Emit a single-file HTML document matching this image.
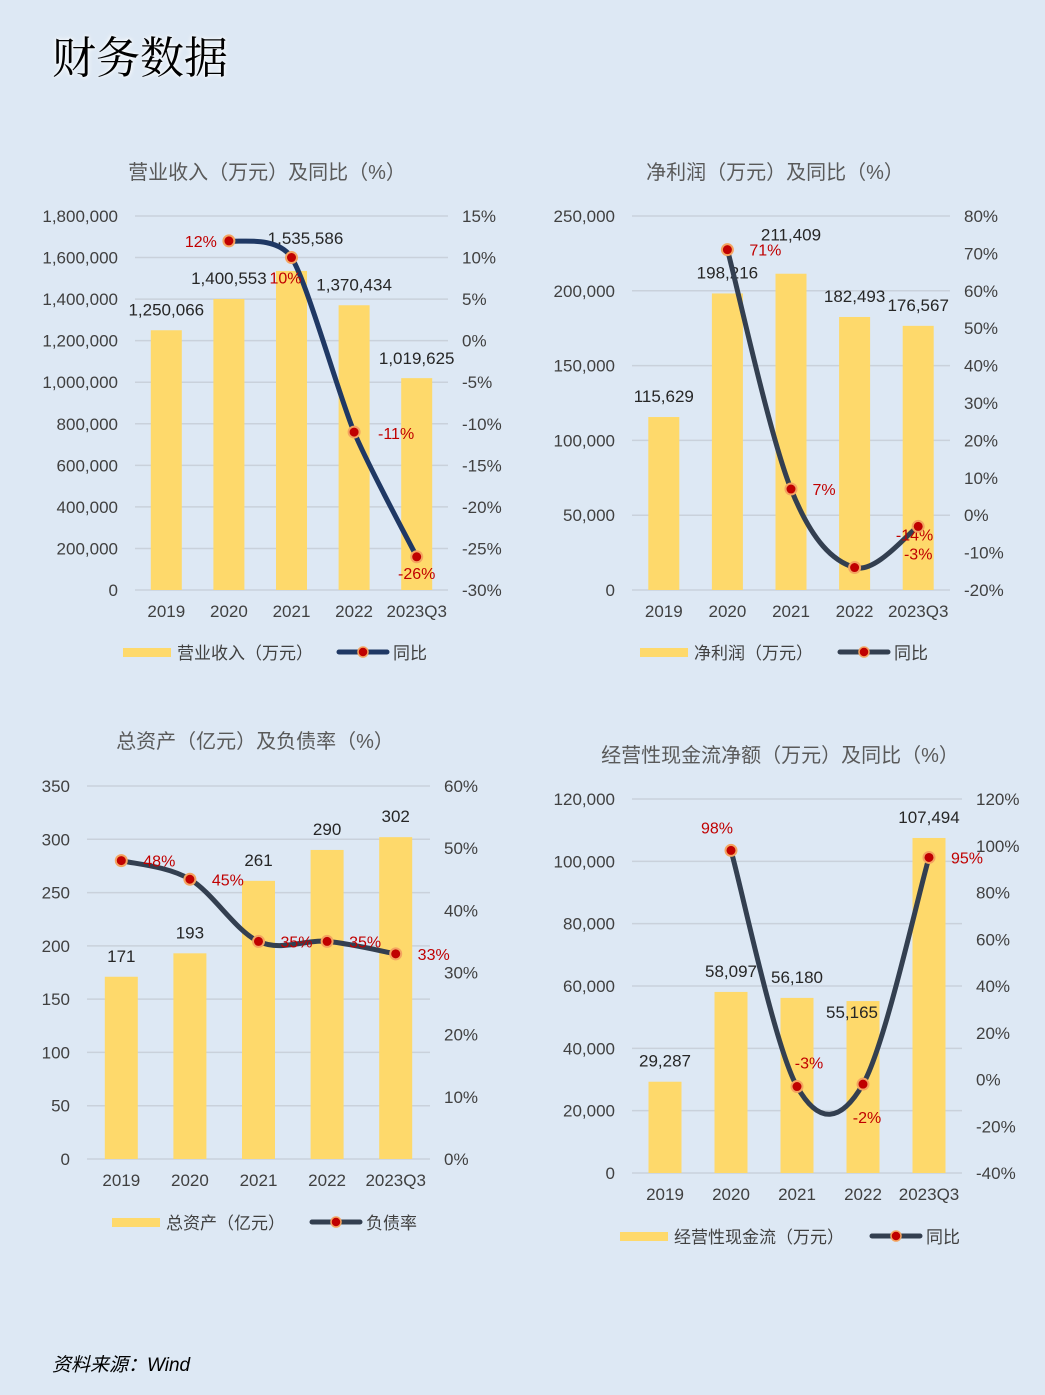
<!DOCTYPE html>
<html><head><meta charset="utf-8">
<style>
body{margin:0;width:1045px;height:1395px;background:#dde8f4;overflow:hidden;font-family:"Liberation Sans","Noto Sans CJK SC",sans-serif;}
#title{position:absolute;left:52px;top:22px;font-size:44px;font-family:"Liberation Serif","Noto Serif CJK SC",serif;color:#000;text-shadow:0 0 6px #fff,0 0 3px #fff;}
#src{position:absolute;left:52px;top:1350px;font-size:19px;font-style:italic;color:#000;}
svg{position:absolute;left:0;top:0;}
</style></head><body>
<div id="title">财务数据</div>
<div id="src">资料来源：Wind</div>
<svg id="svg" width="1045" height="1395"></svg>
<script>
const cats=["2019","2020","2021","2022","2023Q3"];
const rev=[1250066,1400553,1535586,1370434,1019625];
const revYoy=[null,12,10,-11,-26];
const np=[115629,198216,211409,182493,176567];
const npYoy=[null,71,7,-14,-3];
const assets=[171,193,261,290,302];
const debt=[48,45,35,35,33];
const cf=[29287,58097,56180,55165,107494];
const cfYoy=[null,98,-3,-2,95];
const revTicks=[0,200000,400000,600000,800000,1000000,1200000,1400000,1600000,1800000];
const revRT=[-30,-25,-20,-15,-10,-5,0,5,10,15];
const npTicks=[0,50000,100000,150000,200000,250000];
const npRT=[-20,-10,0,10,20,30,40,50,60,70,80];
const aTicks=[0,50,100,150,200,250,300,350];
const aRT=[0,10,20,30,40,50,60];
const cfTicks=[0,20000,40000,60000,80000,100000,120000];
const cfRT=[-40,-20,0,20,40,60,80,100,120];

const NS="http://www.w3.org/2000/svg";
const svg=document.getElementById('svg');
function mk(tag,attrs,parent){const e=document.createElementNS(NS,tag);for(const k in attrs)e.setAttribute(k,attrs[k]);(parent||svg).appendChild(e);return e;}
const fmt=v=>v.toLocaleString('en-US');

function chart(c){
  const g=mk('g',{});
  
  
  const lmin=c.lt[0],lmax=c.lt[c.lt.length-1],rmin=c.rt[0],rmax=c.rt[c.rt.length-1];
  const yL=v=>c.y1-(v-lmin)/(lmax-lmin)*(c.y1-c.y0);
  const yR=v=>c.y1-(v-rmin)/(rmax-rmin)*(c.y1-c.y0);
  const step=(c.x1-c.x0)/cats.length;
  const xc=i=>c.x0+step*(i+0.5);
  const t=mk('text',{x:c.tx,y:c.ty,'font-size':20,fill:'#595959','text-anchor':'middle'},g);t.textContent=c.title;
  
  c.lt.forEach(v=>{const y=yL(v);
    mk('line',{x1:c.x0,x2:c.x1,y1:y,y2:y,stroke:'#c9d1db','stroke-width':1.5},g);
    const l=mk('text',{x:c.x0-17,y:y+6,'font-size':17,fill:'#404040','text-anchor':'end'},g);l.textContent=fmt(v);
    });
  c.rt.forEach(v=>{const l=mk('text',{x:c.x1+14,y:yR(v)+6,'font-size':17,fill:'#404040'},g);l.textContent=v+'%';
    });
  c.bars.forEach((v,i)=>{
    const b=mk('rect',{x:xc(i)-c.bw/2,y:yL(v),width:c.bw,height:yL(lmin)-yL(v),fill:'#fed96b'},g);
    
    const l=mk('text',{x:xc(i)+(c.lo?c.lo[i][0]:0),y:yL(v)-10+(c.lo?c.lo[i][1]:0),'font-size':17,fill:'#262626','text-anchor':'middle'},g);l.textContent=c.fmtBar?c.fmtBar(v):fmt(v);
    
    const xl=mk('text',{x:xc(i),y:c.y1+27,'font-size':17,fill:'#404040','text-anchor':'middle'},g);xl.textContent=cats[i];
    
  });
  const pts=[];c.line.forEach((v,i)=>{if(v!==null)pts.push([xc(i),yR(v),v]);});
  let d='M'+pts[0][0]+','+pts[0][1];
  for(let i=0;i<pts.length-1;i++){const p0=pts[Math.max(0,i-1)],p1=pts[i],p2=pts[i+1],p3=pts[Math.min(pts.length-1,i+2)];
    const k=c.tension||1/6;
    d+=` C${p1[0]+(p2[0]-p0[0])*k},${p1[1]+(p2[1]-p0[1])*k} ${p2[0]-(p3[0]-p1[0])*k},${p2[1]-(p3[1]-p1[1])*k} ${p2[0]},${p2[1]}`;}
  const ln=mk('path',{d:d,fill:'none',stroke:c.lc,'stroke-width':5,'stroke-linecap':'round'},g);
  
  let j=0;
  c.line.forEach((v,i)=>{if(v===null)return;const x=xc(i),y=yR(v);
    const m=mk('circle',{cx:x,cy:y,r:5.5,fill:'#c00000',stroke:'#f4a460','stroke-width':2},g);
    
    const o=c.po[j++];
    const l=mk('text',{x:x+o[0],y:y+o[1],'font-size':16,fill:'#c00000','text-anchor':'middle'},g);l.textContent=Math.round(v)+'%';
    });
  const lg=mk('g',{},g);
  mk('rect',{x:c.lx,y:c.ly-4,width:48,height:9,fill:'#fed96b'},lg);
  const t1=mk('text',{x:c.lx+54,y:c.ly+7,'font-size':17,fill:'#404040'},lg);t1.textContent=c.l1;
  const lx2=c.lx2;
  mk('line',{x1:lx2,x2:lx2+48,y1:c.ly,y2:c.ly,stroke:c.lc,'stroke-width':5,'stroke-linecap':'round'},lg);
  mk('circle',{cx:lx2+24,cy:c.ly,r:5,fill:'#c00000',stroke:'#f4a460','stroke-width':1.5},lg);
  const t2=mk('text',{x:lx2+54,y:c.ly+7,'font-size':17,fill:'#404040'},lg);t2.textContent=c.l2;
}
chart({name:'revenue-chart',title:'营业收入（万元）及同比（%）',tx:267,ty:179,x0:135,x1:448,y0:216,y1:590,lt:revTicks,rt:revRT,bars:rev,line:revYoy,bw:31,lc:'#1f3864',tension:0.12,
  lo:[[0,-5],[0,-5],[14,-17],[0,-5],[0,-4]],po:[[-28,6],[-6,26],[42,7],[0,22]],lx:123,lx2:339,ly:652,l1:'营业收入（万元）',l2:'同比'});
chart({name:'net-profit-chart',title:'净利润（万元）及同比（%）',tx:775,ty:179,x0:632,x1:950,y0:216,y1:590,lt:npTicks,rt:npRT,bars:np,line:npYoy,bw:31,lc:'#333f50',
  lo:[[0,-5],[0,-5],[0,-23],[0,-5],[0,-5]],po:[[38,6],[33,6],[60,-27],[0,33]],lx:640,lx2:840,ly:652,l1:'净利润（万元）',l2:'同比'});
chart({name:'assets-chart',title:'总资产（亿元）及负债率（%）',tx:255,ty:748,x0:87,x1:430,y0:786,y1:1159,lt:aTicks,rt:aRT,bars:assets,line:debt,bw:33,lc:'#333f50',
  lo:[[0,-5],[0,-5],[0,-5],[0,-5],[0,-5]],po:[[38,6],[38,6],[38,6],[38,6],[38,6]],lx:112,lx2:312,ly:1222,l1:'总资产（亿元）',l2:'负债率',fmtBar:v=>String(v)});
chart({name:'cashflow-chart',title:'经营性现金流净额（万元）及同比（%）',tx:780,ty:762,x0:632,x1:962,y0:799,y1:1173,lt:cfTicks,rt:cfRT,bars:cf,line:cfYoy,bw:33,lc:'#333f50',
  lo:[[0,-5],[0,-5],[0,-5],[-11,27],[0,-5]],po:[[-14,-17],[12,-18],[4,39],[38,6]],lx:620,lx2:872,ly:1236,l1:'经营性现金流（万元）',l2:'同比'});
</script>
</body></html>
